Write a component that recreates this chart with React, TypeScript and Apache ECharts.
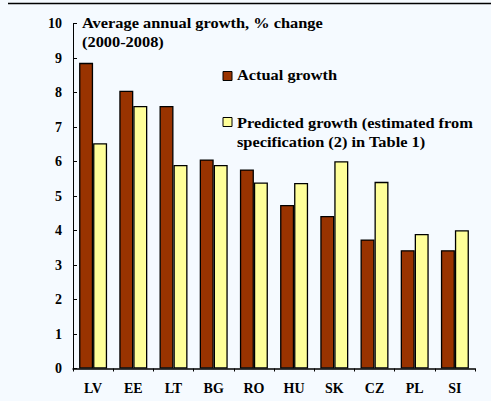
import React, { useEffect, useRef } from "react";
import * as echarts from "echarts";

const categories = ["LV", "EE", "LT", "BG", "RO", "HU", "SK", "CZ", "PL", "SI"];
const actualGrowth = [8.86, 8.05, 7.61, 6.06, 5.77, 4.74, 4.42, 3.74, 3.43, 3.43];
const predictedGrowth = [6.53, 7.61, 5.9, 5.9, 5.39, 5.38, 6.01, 5.41, 3.9, 4.01];
const yTicks = [0, 1, 2, 3, 4, 5, 6, 7, 8, 9, 10];
const titleLines = ["Average annual growth, % change", "(2000-2008)"];
const legendNames = ["Actual growth", "Predicted growth (estimated from\nspecification (2) in Table 1)"];

const FONT = "Liberation Serif";
const ACTUAL_COLOR = "#993300";
const PRED_COLOR = "#FFFF99";
const SX = 1.17;

export default function App() {
  const ref = useRef<HTMLDivElement>(null);
  useEffect(() => {
    if (!ref.current) return;
    const chart = echarts.init(ref.current, null, { renderer: "svg" });
    const textStyle = { fontFamily: FONT, fontWeight: "bold" as const, fontSize: 14, fill: "#000" };
    chart.setOption({
      animation: false,
      backgroundColor: "#F5FAFF",
      textStyle: { fontFamily: FONT },
      grid: { left: 73, right: 16, top: 23.5, bottom: 32.5 },
      xAxis: {
        type: "category",
        data: categories,
        axisLine: { lineStyle: { color: "#000", width: 1.5 } },
        axisTick: { show: true, length: 3, inside: false, lineStyle: { color: "#000" } },
        axisLabel: { color: "#000", fontFamily: FONT, fontWeight: "bold", fontSize: 14, margin: 13 },
      },
      yAxis: {
        type: "value",
        min: yTicks[0],
        max: yTicks[yTicks.length - 1],
        interval: 1,
        splitLine: { show: false },
        axisLine: { show: true, lineStyle: { color: "#000", width: 1 } },
        axisTick: { show: true, inside: true, length: 4, lineStyle: { color: "#000" } },
        axisLabel: { color: "#000", fontFamily: FONT, fontWeight: "bold", fontSize: 14, margin: 11 },
      },
      series: [
        {
          name: legendNames[0],
          type: "bar",
          data: actualGrowth,
          barWidth: 14,
          barGap: "0%",
          itemStyle: { color: ACTUAL_COLOR, borderColor: "#000", borderWidth: 1.3 },
        },
        {
          name: legendNames[1],
          type: "bar",
          data: predictedGrowth,
          barWidth: 14,
          barGap: "0%",
          itemStyle: { color: PRED_COLOR, borderColor: "#000", borderWidth: 1.3 },
        },
      ],
      graphic: [
        { type: "line", shape: { x1: 8, y1: 3.5, x2: 491, y2: 3.5 }, style: { stroke: "#000", lineWidth: 1.5 } },
        { type: "text", x: 82, y: 16, scaleX: SX, style: { ...textStyle, text: titleLines[0] } },
        { type: "text", x: 82, y: 35, scaleX: SX, style: { ...textStyle, text: titleLines[1] } },
        { type: "rect", shape: { x: 223, y: 71.5, width: 9, height: 9 }, style: { fill: ACTUAL_COLOR, stroke: "#000", lineWidth: 1 } },
        { type: "text", x: 237, y: 68, scaleX: SX, style: { ...textStyle, text: legendNames[0] } },
        { type: "rect", shape: { x: 223, y: 117.5, width: 9, height: 9 }, style: { fill: PRED_COLOR, stroke: "#000", lineWidth: 1 } },
        { type: "text", x: 237, y: 113, scaleX: SX, style: { ...textStyle, text: legendNames[1], lineHeight: 19 } },
      ],
    });
    return () => chart.dispose();
  }, []);
  return (
    <div
      ref={ref}
      style={{ position: "fixed", left: 0, top: 0, width: 491, height: 401 }}
    />
  );
}
